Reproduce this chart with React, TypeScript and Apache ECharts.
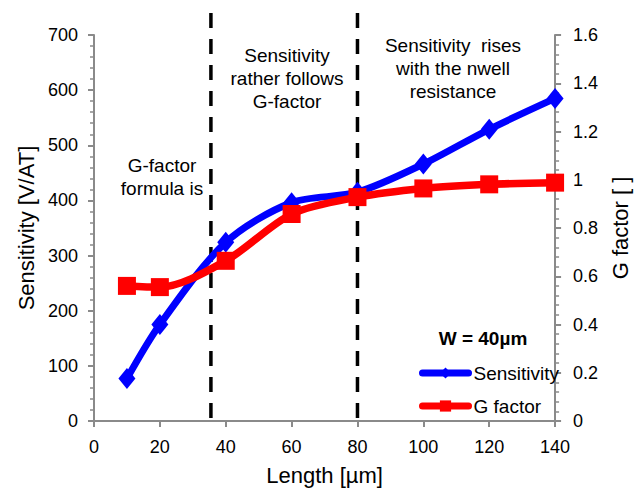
import React, { useEffect, useRef } from "react";
import * as echarts from "echarts";

const lengths = [10, 20, 40, 60, 80, 100, 120, 140];
const sensitivity = [77, 175, 324, 396, 415, 466, 529, 585];
const gFactor = [0.56, 0.555, 0.664, 0.858, 0.928, 0.964, 0.981, 0.988];
const dividers = [35.5, 80];
const seriesNames = ["Sensitivity", "G factor"];
const annotations = [
  { text: "G-factor\nformula is", x: 162, y: 177 },
  { text: "Sensitivity\nrather follows\nG-factor", x: 287, y: 78 },
  { text: "Sensitivity  rises\nwith the nwell\nresistance", x: 453, y: 68 },
];
const legendTitle = "W = 40µm";

const FONT = "Liberation Sans, Arial, sans-serif";
const AXIS_COLOR = "#8a8a8a";

export default function App() {
  const ref = useRef<HTMLDivElement>(null);
  useEffect(() => {
    if (!ref.current) return;
    const chart = echarts.init(ref.current, null, { renderer: "svg" });
    const axisCommon = {
      axisLine: { show: true, lineStyle: { color: AXIS_COLOR, width: 2 } },
      axisTick: { show: true, length: 6, lineStyle: { color: AXIS_COLOR, width: 2 } },
      splitLine: { show: false },
      axisLabel: { color: "#000", fontSize: 18, fontFamily: FONT },
      nameTextStyle: { color: "#000", fontSize: 22, fontFamily: FONT },
      nameLocation: "middle" as const,
    };
    chart.setOption({
      animation: false,
      backgroundColor: "#fff",
      textStyle: { fontFamily: FONT },
      grid: { left: 94, right: 77, top: 35, bottom: 68 },
      xAxis: {
        type: "value",
        min: 0,
        max: 140,
        interval: 20,
        name: "Length [µm]",
        nameGap: 43,
        ...axisCommon,
        axisLabel: { ...axisCommon.axisLabel, margin: 17 },
      },
      yAxis: [
        {
          type: "value",
          min: 0,
          max: 700,
          interval: 100,
          name: "Sensitivity [V/AT]",
          nameGap: 54,
          nameRotate: 90,
          ...axisCommon,
          axisLabel: { ...axisCommon.axisLabel, margin: 16 },
          minorTick: { show: true, splitNumber: 5, length: 4, lineStyle: { color: AXIS_COLOR, width: 1.5 } },
        },
        {
          type: "value",
          min: 0,
          max: 1.6,
          interval: 0.2,
          position: "right",
          name: "G factor [ ]",
          nameGap: 47,
          nameRotate: 90,
          ...axisCommon,
          axisLabel: { ...axisCommon.axisLabel, margin: 18 },
          minorTick: { show: true, splitNumber: 5, length: 4, lineStyle: { color: AXIS_COLOR, width: 1.5 } },
        },
      ],
      legend: {
        data: seriesNames,
        orient: "vertical",
        left: 419,
        top: 363,
        padding: 0,
        itemWidth: 46,
        itemHeight: 14,
        itemGap: 13,
        lineStyle: { width: 7, cap: "round" },
        textStyle: { color: "#000", fontSize: 19, fontFamily: FONT, lineHeight: 20 },
      },
      graphic: [
        ...annotations.map((a) => ({
          type: "text",
          x: a.x,
          y: a.y,
          style: {
            text: a.text,
            fill: "#000",
            font: `19px ${FONT}`,
            align: "center",
            verticalAlign: "middle",
            lineHeight: 23,
          },
          silent: true,
        })),
        {
          type: "text",
          x: 483,
          y: 338,
          style: {
            text: legendTitle,
            fill: "#000",
            font: `bold 19px ${FONT}`,
            align: "center",
            verticalAlign: "middle",
          },
          silent: true,
        },
      ],
      series: [
        {
          type: "custom",
          xAxisIndex: 0,
          yAxisIndex: 0,
          data: dividers.map((v) => [v, 0]),
          encode: { x: 0, y: 1 },
          silent: true,
          z: 1,
          renderItem: (params: any, api: any) => {
            const v = api.value(0);
            const bottom = api.coord([v, 0]);
            const top = api.coord([v, 740]);
            return {
              type: "line",
              shape: { x1: top[0], y1: top[1], x2: bottom[0], y2: bottom[1] },
              style: { stroke: "#000", lineWidth: 3.5, lineDash: [15, 11] },
            };
          },
        },
        {
          name: seriesNames[0],
          type: "line",
          yAxisIndex: 0,
          data: lengths.map((x, i) => [x, sensitivity[i]]),
          smooth: 0.3,
          symbol: "diamond",
          symbolSize: [17, 21],
          lineStyle: { color: "#0000ff", width: 7, cap: "round" },
          itemStyle: { color: "#0000ff" },
          z: 3,
        },
        {
          name: seriesNames[1],
          type: "line",
          yAxisIndex: 1,
          data: lengths.map((x, i) => [x, gFactor[i]]),
          smooth: 0.3,
          symbol: "rect",
          symbolSize: 18,
          lineStyle: { color: "#ff0000", width: 7.5, cap: "round" },
          itemStyle: { color: "#ff0000" },
          z: 4,
        },
      ],
    });
    return () => chart.dispose();
  }, []);
  return <div ref={ref} style={{ width: 639, height: 491, position: "absolute", left: 0, top: 0 }} />;
}
